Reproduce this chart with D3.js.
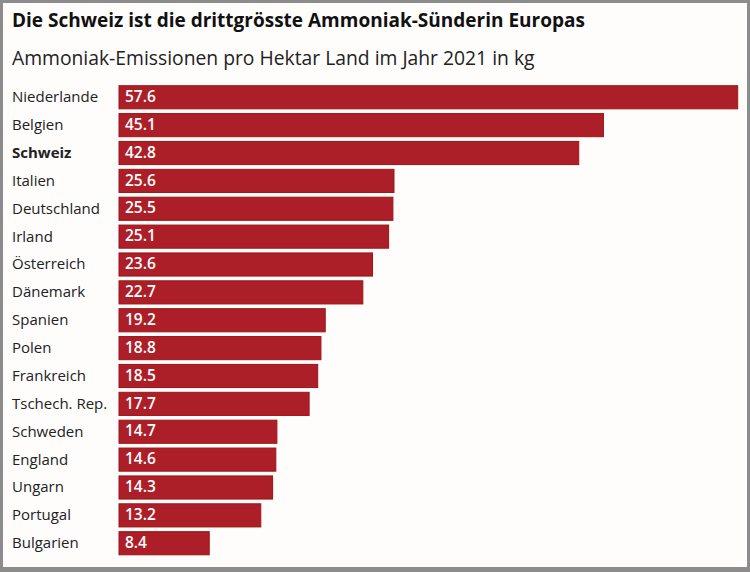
<!DOCTYPE html>
<html><head><meta charset="utf-8">
<script src="https://cdn.jsdelivr.net/npm/d3@7"></script>
<style>
html,body{margin:0;padding:0;background:#fff;}
svg{display:block;}
text{font-family:"Open Sans","Noto Sans",sans-serif;}
</style></head>
<body>
<svg id="chart" width="750" height="572"></svg>
<script>
const title = "Die Schweiz ist die drittgrösste Ammoniak-Sünderin Europas";
const subtitle = "Ammoniak-Emissionen pro Hektar Land im Jahr 2021 in kg";
const countries = ["Niederlande","Belgien","Schweiz","Italien","Deutschland","Irland","Österreich","Dänemark","Spanien","Polen","Frankreich","Tschech. Rep.","Schweden","England","Ungarn","Portugal","Bulgarien"];
const values = [57.6,45.1,42.8,25.6,25.5,25.1,23.6,22.7,19.2,18.8,18.5,17.7,14.7,14.6,14.3,13.2,8.4];
const highlight = ["Schweiz"];

const svg = d3.select("#chart");
const W = 750, H = 572;
svg.append("rect").attr("x",0).attr("y",0).attr("width",W).attr("height",H).attr("fill","#8c8c8c");
svg.append("rect").attr("x",3).attr("y",3).attr("width",744).attr("height",564).attr("fill","#fefdfc");

function fitText(sel, target){
  const n = sel.node();
  const w = n.getComputedTextLength();
  const fs = parseFloat(sel.attr("font-size"));
  sel.attr("font-size", fs*target/w);
}

const t = svg.append("text").attr("x",12).attr("y",27).attr("font-size",19).attr("font-weight",700).attr("fill","#111").text(title);
fitText(t, 573);
const st = svg.append("text").attr("x",12).attr("y",65).attr("font-size",19).attr("fill","#222").text(subtitle);
fitText(st, 523);

const x = d3.scaleLinear().domain([0, 57.6]).range([119, 737.7]);
const y = d3.scaleBand().domain(countries).range([84.3, 556.2]).paddingInner(0.17).paddingOuter(0.05);

const data = countries.map((c,i)=>({c, v: values[i]}));

svg.append("g").selectAll("rect").data(data).join("rect")
  .attr("x", x(0)).attr("y", d=>y(d.c))
  .attr("width", d=>x(d.v)-x(0)).attr("height", y.bandwidth())
  .attr("fill","#ad1f28").attr("stroke","#9e1515").attr("stroke-width",1);

svg.append("g").selectAll("text").data(data).join("text")
  .attr("x", 12).attr("y", d=>y(d.c)+y.bandwidth()/2).attr("dy","0.33em")
  .attr("font-size",15).attr("fill","#222")
  .attr("font-weight", d=>highlight.includes(d.c)?700:400)
  .text(d=>d.c);

svg.append("g").selectAll("text").data(data).join("text")
  .attr("x", x(0)+6).attr("y", d=>y(d.c)+y.bandwidth()/2).attr("dy","0.3em")
  .attr("font-size",15.5).attr("fill","#fff").attr("font-weight",600)
  .text(d=>d.v.toFixed(1));
</script>
</body></html>
